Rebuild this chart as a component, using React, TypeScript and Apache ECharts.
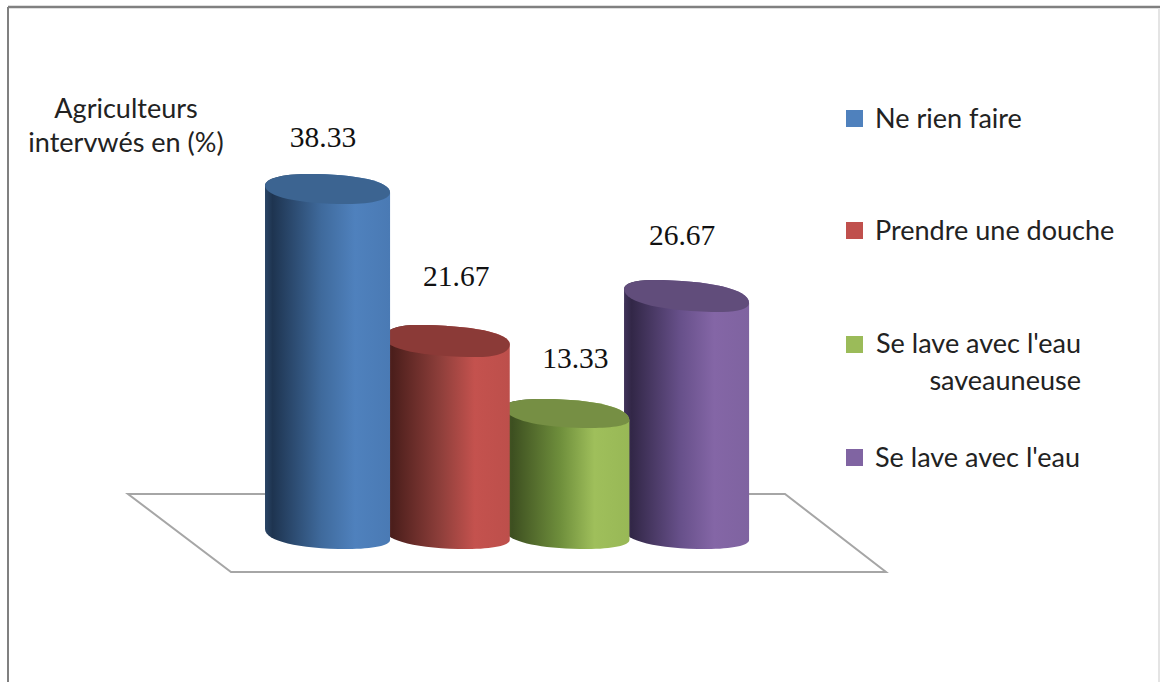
import React, { useEffect, useRef } from "react";
import * as echarts from "echarts";

const categories = ["Ne rien faire", "Prendre une douche", "Se lave avec l'eau saveauneuse", "Se lave avec l'eau"];
const values = [38.33, 21.67, 13.33, 26.67];
const legendLabels = ["Ne rien faire", "Prendre une douche", "Se lave avec l'eau\nsaveauneuse", "Se lave avec l'eau"];
const yTitle = "Agriculteurs\nintervwés en (%)";

// Cylinder shading per category: rim, shadow, mid tone, highlight, right edge, cap
const shades = [
  ["#2a4566", "#1e3450", "#3f6a9c", "#4f81bd", "#4a7ab4", "#3c6491"],
  ["#5f2a27", "#4b1e1b", "#8f3f3b", "#c4524e", "#bd4f4b", "#8b3a37"],
  ["#4c6026", "#3d4f20", "#6f8f3c", "#9fbf5b", "#98b856", "#768f44"],
  ["#40335a", "#322747", "#67508a", "#8466a6", "#7f63a0", "#614d7b"],
];
const highlightStops = [0, 0.06, 0.45, 0.72, 1];
const legendColors = ["#4f81bd", "#c0504d", "#9bbb59", "#8064a2"];

// Perspective of the caps: vertical drop of the rim ends, sideways shift of
// the highest and lowest rim points, half height, and a small offset of the centre
const capDrop = [3.5, 3.5, 7, 7];
const capShift = [20, 32, 24, 36];
const capHalfHeight = [15, 16, 14.5, 16];
const capNudge = [-0.5, 1.5, -1, 1.5];
const baseDrop = 5.5;
const baseShift = 20;
const baseHalfHeight = 14.5;
const bulge = 0.6;
const widthRatio = 1.045;
// Hand placement of each value label relative to its column's cap
const labelOffset = [[-4.5, -52.5], [9, -63.5], [8.5, -56.5], [-4.5, -59.5]];

const legendRows = [118, 230, 344, 457];
const textStretch = 1.04;

// Lower rim from the left end to the right end, as two cubic curves
function lowerRim(xl: number, xr: number, yc: number, drop: number, shift: number, half: number) {
  const bx = (xl + xr) / 2 + shift;
  const by = yc + half;
  const ly = yc - drop;
  const ry = yc + drop;
  return (
    `C ${xl} ${ly + bulge * (by - ly)} ${bx - bulge * (bx - xl)} ${by} ${bx} ${by} ` +
    `C ${bx + bulge * (xr - bx)} ${by} ${xr} ${ry + bulge * (by - ry)} ${xr} ${ry} `
  );
}

// Upper rim from the right end back to the left end
function upperRim(xl: number, xr: number, yc: number, drop: number, shift: number, half: number) {
  const tx = (xl + xr) / 2 - shift;
  const ty = yc - half;
  const ly = yc - drop;
  const ry = yc + drop;
  return (
    `C ${xr} ${ry - bulge * (ry - ty)} ${tx + bulge * (xr - tx)} ${ty} ${tx} ${ty} ` +
    `C ${tx - bulge * (tx - xl)} ${ty} ${xl} ${ly - bulge * (ly - ty)} ${xl} ${ly} `
  );
}

function renderCylinder(params: any, api: any) {
  const i = api.value(0);
  const value = api.value(1);
  const top = api.coord([i, value]);
  const base = api.coord([i, 0]);
  const hw = (api.size([1, 0])[0] * widthRatio) / 2;
  const cx = top[0];
  const xl = cx - hw;
  const xr = cx + hw;
  const capY = top[1] + capNudge[i];
  const cap =
    `M ${xl} ${capY - capDrop[i]} ` +
    lowerRim(xl, xr, capY, capDrop[i], capShift[i], capHalfHeight[i]) +
    upperRim(xl, xr, capY, capDrop[i], capShift[i], capHalfHeight[i]) + "Z";
  const body =
    `M ${xl} ${capY - capDrop[i]} L ${xl} ${base[1] - baseDrop} ` +
    lowerRim(xl, xr, base[1], baseDrop, baseShift, baseHalfHeight) +
    `L ${xr} ${capY + capDrop[i]} ` +
    upperRim(xl, xr, capY, capDrop[i], capShift[i], capHalfHeight[i]) + "Z";
  const c = shades[i];
  return {
    type: "group",
    children: [
      {
        type: "path",
        shape: { pathData: body },
        style: {
          fill: {
            type: "linear", x: 0, y: 0, x2: 1, y2: 0,
            colorStops: highlightStops.map((offset, k) => ({ offset, color: c[k] })),
          },
        },
      },
      {
        type: "path",
        shape: { pathData: cap },
        style: { fill: c[5] },
      },
      {
        type: "text",
        style: {
          text: value.toFixed(2),
          x: cx + labelOffset[i][0],
          y: top[1] + labelOffset[i][1],
          align: "center",
          verticalAlign: "middle",
          fill: "#111111",
          font: '29.5px "Liberation Serif"',
        },
      },
    ],
  };
}

export default function App() {
  const ref = useRef<HTMLDivElement>(null);
  useEffect(() => {
    const chart = echarts.init(ref.current!, undefined, { renderer: "svg" });
    const font = '26px "Lato"';
    chart.setOption({
      animation: false,
      backgroundColor: "#ffffff",
      grid: { left: 267.7, top: 174.5, width: 478.7, height: 360 },
      xAxis: { type: "category", data: categories, show: false },
      yAxis: { type: "value", min: 0, max: 40, interval: 10, show: false },
      graphic: [
        // Outer frame
        { type: "line", shape: { x1: 8, y1: 7, x2: 1160, y2: 7 }, style: { stroke: "#808080", lineWidth: 2.5 } },
        { type: "line", shape: { x1: 8, y1: 7, x2: 8, y2: 682 }, style: { stroke: "#808080", lineWidth: 2 } },
        { type: "line", shape: { x1: 1159, y1: 8, x2: 1159, y2: 682 }, style: { stroke: "#e4e4e4", lineWidth: 2 } },
        // Floor of the 3D scene
        {
          type: "polygon",
          shape: { points: [[128, 494], [785, 494], [886, 572], [231, 572]] },
          style: { fill: "#ffffff", stroke: "#a6a6a6", lineWidth: 2 },
        },
        {
          type: "text",
          x: 126,
          y: 125.5,
          scaleX: textStretch,
          style: {
            text: yTitle, x: 0, y: 0, align: "center", verticalAlign: "middle",
            fill: "#222222", font, lineHeight: 34,
          },
        },
        ...legendLabels.flatMap((label, i) => {
          const multi = label.includes("\n");
          return [
            {
              type: "rect",
              shape: { x: 846, y: legendRows[i] - 8, width: 17, height: 17 },
              style: { fill: legendColors[i] },
            },
            {
              type: "text",
              x: multi ? 1081 : 875,
              y: legendRows[i] + (multi ? 18 : 0),
              scaleX: textStretch,
              style: {
                text: label,
                x: 0,
                y: 0,
                align: multi ? "right" : "left",
                verticalAlign: "middle",
                fill: "#222222",
                font,
                lineHeight: 37,
              },
            },
          ];
        }),
      ],
      series: [
        {
          type: "custom",
          renderItem: renderCylinder,
          encode: { x: 0, y: 1 },
          // Painted from the back (right) to the front (left)
          data: values.map((v, i) => [i, v]).reverse(),
          clip: false,
        },
      ],
    });
    return () => chart.dispose();
  }, []);
  return <div ref={ref} style={{ position: "fixed", left: 0, top: 0, width: 1160, height: 682 }} />;
}
